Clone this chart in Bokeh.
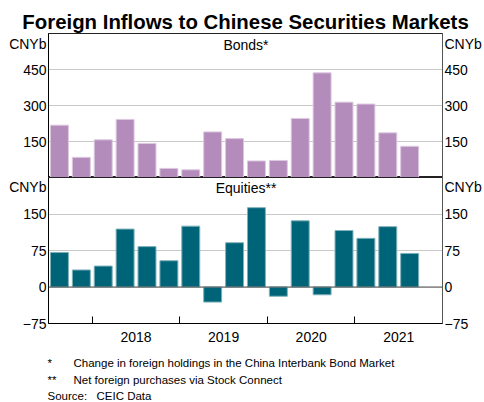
from bokeh.plotting import figure
from bokeh.layouts import column
from bokeh.models import Range1d, FixedTicker, LinearAxis, Label, Span, ColumnDataSource
from bokeh.embed import file_html
from bokeh.resources import INLINE

# ---- data ----
quarters = ["2017-Q3", "2017-Q4", "2018-Q1", "2018-Q2", "2018-Q3", "2018-Q4",
            "2019-Q1", "2019-Q2", "2019-Q3", "2019-Q4", "2020-Q1", "2020-Q2",
            "2020-Q3", "2020-Q4", "2021-Q1", "2021-Q2", "2021-Q3"]
bonds = [218, 84, 157, 242, 142, 38, 32, 190, 162, 69, 71, 246, 436, 314, 306, 186, 130]
equities = [71, 35, 43, 119, 83, 54, 125, -31, 91, 163, -19, 136, -16, 116, 100, 124, 69]
year_labels = ["2018", "2019", "2020", "2021"]
bond_ticks = [150, 300, 450]
equity_ticks = [-75, 0, 75, 150]
unit_label = "CNYb"

title_text = "Foreign Inflows to Chinese Securities Markets"
notes = [("*", "Change in foreign holdings in the China Interbank Bond Market"),
         ("**", "Net foreign purchases via Stock Connect"),
         ("Source:", "CEIC Data")]

FONT = "Liberation Sans"
PURPLE = "#B38CBB"
TEAL = "#006479"


def qpos(q):
    y, qq = q.split("-Q")
    return int(y) + (int(qq) - 1) * 0.25 + 0.125


xs = [qpos(q) for q in quarters]
year_starts = [int(y) for y in year_labels]
year_mids = [int(y) + 0.5 for y in year_labels]

X0, X1 = 2017.5, 2022.0
W = 484


def base_fig(height, yr, ticks, unit_pos, top, bottom):
    p = figure(width=W, height=height, x_range=Range1d(X0, X1), y_range=Range1d(*yr),
               output_backend="svg", toolbar_location=None,
               min_border_left=48, min_border_right=41,
               min_border_top=top, min_border_bottom=bottom,
               x_axis_location=None, y_axis_location=None)
    p.outline_line_color = "#222222"
    p.outline_line_width = 1
    p.xgrid.visible = False
    p.ygrid.ticker = FixedTicker(ticks=ticks)
    p.ygrid.grid_line_color = "#C8C8C8"
    p.ygrid.grid_line_width = 1
    p.background_fill_color = "white"
    p.border_fill_color = "white"
    for side in ("left", "right"):
        ax = LinearAxis(ticker=FixedTicker(ticks=ticks + [unit_pos]))
        ax.major_label_overrides = {unit_pos: unit_label}
        ax.major_tick_in = 0
        ax.major_tick_out = 0
        ax.minor_tick_in = 0
        ax.minor_tick_out = 0
        ax.major_label_text_font = FONT
        ax.major_label_text_font_size = "14px"
        ax.major_label_text_color = "black"
        ax.major_label_standoff = 2
        ax.axis_line_color = "black" if side == "left" else "#555555"
        ax.axis_line_width = 1
        p.add_layout(ax, side)
    return p


def lab(p, x, y, text, align="left", size="14px", style="normal"):
    p.add_layout(Label(x=x, y=y, x_units="screen", y_units="screen", text=text,
                       text_font=FONT, text_font_size=size, text_font_style=style,
                       text_align=align, text_baseline="middle", text_color="black"))


# ---- top panel: bonds ----
p1 = base_fig(177, (0, 600), bond_ticks, 558, 33, 0)
p1.title.text = title_text
p1.title.align = "center"
p1.title.text_font = FONT
p1.title.text_font_size = "20.4px"
p1.title.text_font_style = "bold"
p1.title.text_color = "black"
p1.title.standoff = 2
src1 = ColumnDataSource(dict(x=xs, top=bonds))
p1.vbar(x="x", top="top", bottom=0, width=0.205, source=src1,
        fill_color=PURPLE, line_color="#DCC8E0", line_width=1)
lab(p1, 197.5, 133, "Bonds*", align="center")

# ---- bottom panel: equities ----
p2 = base_fig(171, (-75, 225), equity_ticks, 206, 0, 25)
src2 = ColumnDataSource(dict(x=xs, top=equities))
p2.vbar(x="x", top="top", bottom=0, width=0.205, source=src2,
        fill_color=TEAL, line_color="#7FB0BB", line_width=1)
p2.add_layout(Span(location=0, dimension="width", line_color="#555555", line_width=1))

xax = LinearAxis(ticker=FixedTicker(ticks=year_mids, minor_ticks=year_starts))
xax.major_label_overrides = {m: l for m, l in zip(year_mids, year_labels)}
xax.major_tick_in = 0
xax.major_tick_out = 0
xax.minor_tick_in = 7
xax.minor_tick_out = 0
xax.minor_tick_line_color = "black"
xax.axis_line_color = "black"
xax.major_label_text_font = FONT
xax.major_label_text_font_size = "14px"
xax.major_label_text_color = "black"
xax.major_label_standoff = 8
p2.add_layout(xax, "below")

lab(p2, 197.5, 136, "Equities**", align="center")

# ---- footer with notes ----
FH = 54
foot = figure(width=W, height=FH, x_range=Range1d(0, W), y_range=Range1d(0, FH),
              output_backend="svg", toolbar_location=None, min_border=0,
              x_axis_location=None, y_axis_location=None)
foot.frame_align = False
foot.outline_line_color = None
foot.xgrid.visible = False
foot.ygrid.visible = False
ys = [40, 23, 7]
for (mark, txt), yy in zip(notes, ys):
    lab(foot, 47, yy, mark, size="11.5px")
    lab(foot, 96 if mark == "Source:" else 73, yy, txt, size="11.5px")

layout = column(p1, p2, foot, spacing=0)
open("out.html", "w").write(file_html(layout, INLINE))
